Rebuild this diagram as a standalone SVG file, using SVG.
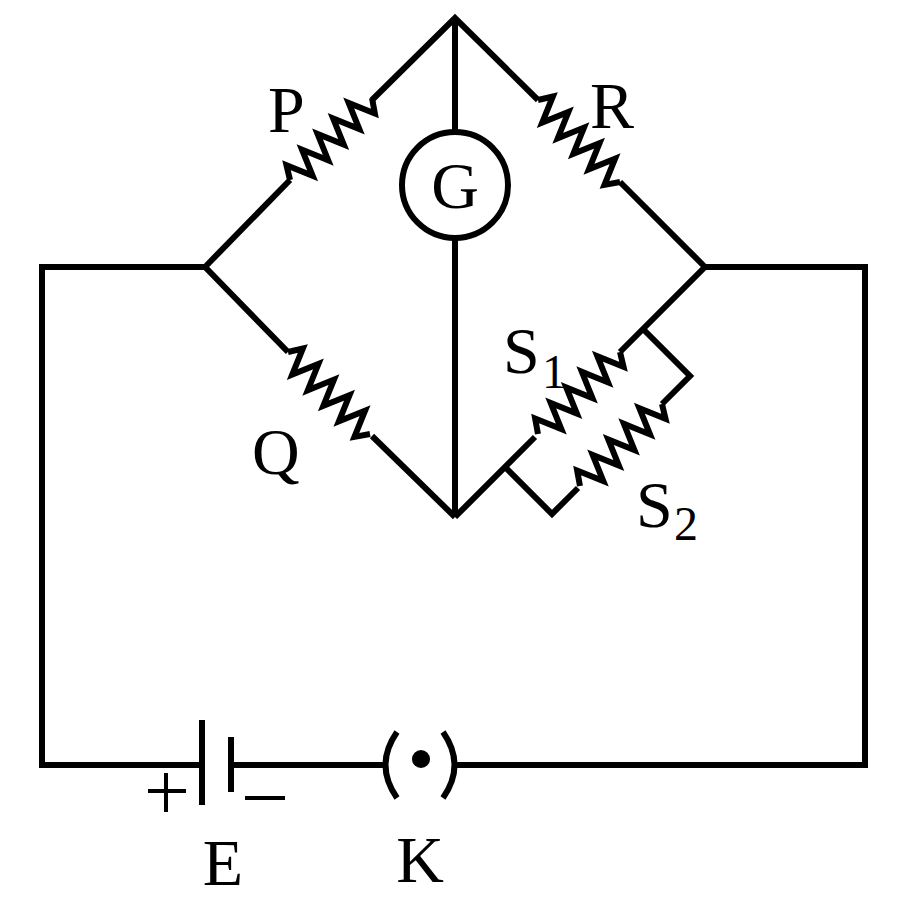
<svg xmlns="http://www.w3.org/2000/svg" width="900" height="899" viewBox="0 0 900 899">
<style>
.w{fill:none;stroke:#000;stroke-width:6;stroke-linejoin:miter}
.t{font-family:"Liberation Serif",serif;font-size:66px;fill:#000}
.s{font-family:"Liberation Serif",serif;font-size:48px;fill:#000}
</style>
<defs>
<path id="res" class="w" d="M0,0 L8,-13 L19,13 L30,-13 L41,13 L52,-13 L63,13 L74,-13 L85,13 L96,-13 L107,13 L116,0"/>
</defs>
<rect width="900" height="899" fill="#fff"/>
<g id="connectors">
<polyline class="w" points="372,100 455,18 538,100"/>
<line class="w" x1="290" y1="180" x2="205" y2="267"/>
<polyline class="w" points="288,352 205,267 42,267 42,765 202,765"/>
<line class="w" x1="372" y1="436" x2="455" y2="517"/>
<line class="w" x1="620" y1="182" x2="705" y2="267"/>
<polyline class="w" points="620,352 705,267 865,267 865,765 455,765"/>
<line class="w" x1="231" y1="765" x2="385" y2="765"/>
<polyline class="w" points="535,437 455,517"/>
<polyline class="w" points="643,329 690,376 662,404"/>
<polyline class="w" points="578,488 552,514 505,467"/>
<line class="w" x1="455" y1="18" x2="455" y2="132"/>
<line class="w" x1="455" y1="238" x2="455" y2="517"/>
</g>
<g id="P"><use href="#res" transform="translate(290,180) rotate(-45)"/><text class="t" x="268" y="132">P</text></g>
<g id="Q"><use href="#res" transform="translate(288,352) rotate(45)"/><text class="t" x="252" y="474">Q</text></g>
<g id="R"><use href="#res" transform="translate(538,100) rotate(45)"/><text class="t" x="590" y="128">R</text></g>
<g id="S1"><use href="#res" transform="translate(620,352) rotate(135)"/><text class="t" x="503" y="373">S</text><text class="s" x="542" y="388">1</text></g>
<g id="S2"><use href="#res" transform="translate(662,404) rotate(135)"/><text class="t" x="636" y="527">S</text><text class="s" x="674" y="540">2</text></g>
<g id="G"><circle class="w" cx="455" cy="185" r="53"/><text class="t" x="455" y="208" text-anchor="middle">G</text></g>
<g id="E">
<line class="w" x1="202" y1="720" x2="202" y2="805"/>
<line class="w" x1="231" y1="737" x2="231" y2="792"/>
<line x1="148" y1="791" x2="186" y2="791" stroke="#000" stroke-width="4"/>
<line x1="166" y1="773" x2="166" y2="812" stroke="#000" stroke-width="4"/>
<line x1="245" y1="798" x2="285" y2="798" stroke="#000" stroke-width="4"/>
<text class="t" x="223" y="885" text-anchor="middle">E</text>
</g>
<g id="K">
<path class="w" d="M397,732 Q374,765 397,798"/>
<path class="w" d="M443,732 Q466,765 443,798"/>
<circle cx="421" cy="759" r="9" fill="#000"/>
<text class="t" x="420" y="882" text-anchor="middle">K</text>
</g>
</svg>
